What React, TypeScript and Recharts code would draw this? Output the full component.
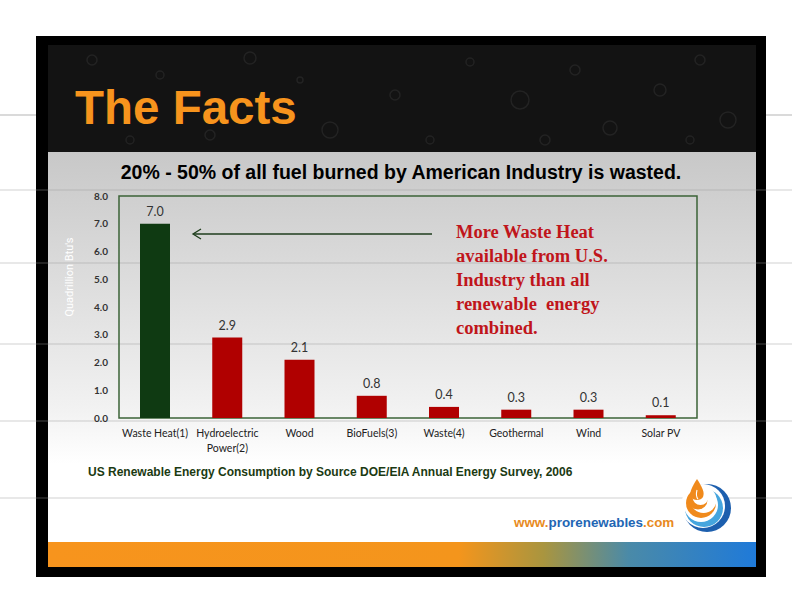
import React from 'react';
import { BarChart, Bar, XAxis, YAxis, Cell, LabelList, ReferenceArea } from 'recharts';

// US renewable energy consumption by source (quadrillion Btu's)
const categories = [
  'Waste Heat(1)',
  'Hydroelectric\nPower(2)',
  'Wood',
  'BioFuels(3)',
  'Waste(4)',
  'Geothermal',
  'Wind',
  'Solar PV',
];
const values = [7.0, 2.9, 2.1, 0.8, 0.4, 0.3, 0.3, 0.1];
const barColors = ['#0f3a12', '#b00000', '#b00000', '#b00000', '#b00000', '#b00000', '#b00000', '#b00000'];
const yTicks = [0, 1, 2, 3, 4, 5, 6, 7, 8];

const noteLines = [
  'More Waste Heat',
  'available from U.S.',
  'Industry than all',
  'renewable  energy',
  'combined.',
];

const data = categories.map((name, i) => ({ name, value: values[i] }));

// faint page guide lines
const guideLines = [190, 263, 344, 421, 498];

// header texture rings
const rings = [
  [92, 60, 5], [160, 75, 4], [250, 58, 6], [330, 130, 8], [395, 95, 5], [470, 62, 4],
  [520, 100, 9], [575, 70, 5], [610, 128, 7], [660, 90, 6], [700, 60, 5], [728, 120, 8],
  [300, 80, 3], [430, 140, 4], [545, 140, 5], [690, 140, 4], [210, 135, 5], [130, 140, 4],
];

function CategoryTick(props: any) {
  const { x, y, payload } = props;
  const lines = String(payload.value).split('\n');
  return (
    <text x={x} y={y} textAnchor="middle" fontFamily="Lato" fontSize={10.5} fill="#222">
      {lines.map((l, i) => (
        <tspan key={i} x={x} dy={i === 0 ? '0.71em' : 15}>
          {l}
        </tspan>
      ))}
    </text>
  );
}

export default function App() {
  return (
    <div
      style={{
        position: 'absolute',
        left: 0,
        top: 0,
        width: 792,
        height: 612,
        background: '#fff',
        overflow: 'hidden',
        fontFamily: 'Liberation Sans, Arial, sans-serif',
      }}
    >
      {/* slide frame */}
      <div style={{ position: 'absolute', left: 36, top: 36, width: 730, height: 541, background: '#000' }} />
      {/* header */}
      <div style={{ position: 'absolute', left: 48, top: 45, width: 708, height: 107, background: '#131313' }} />
      {/* gray band */}
      <div
        style={{
          position: 'absolute',
          left: 48,
          top: 152,
          width: 708,
          height: 390,
          background: 'linear-gradient(#c8c8c8 0%, #dedede 35%, #f1f1f1 65%, #ffffff 80%, #ffffff 100%)',
        }}
      />
      {/* bottom bar */}
      <div
        style={{
          position: 'absolute',
          left: 48,
          top: 542,
          width: 708,
          height: 25,
          background: 'linear-gradient(90deg, #f7941d 0%, #f4951c 58%, #a9953f 70%, #4a8aa8 82%, #1f7ad9 100%)',
        }}
      />

      <svg width={792} height={612} style={{ position: 'absolute', left: 0, top: 0 }}>
        {rings.map(([cx, cy, r], i) => (
          <circle key={i} cx={cx} cy={cy} r={r} fill="none" stroke="#232323" strokeWidth={1.5} />
        ))}
        <line x1={0} y1={115} x2={36} y2={115} stroke="#b5b5b5" />
        <line x1={766} y1={115} x2={792} y2={115} stroke="#b5b5b5" />
        {guideLines.map((y) => (
          <line key={y} x1={0} y1={y} x2={792} y2={y} stroke="#9a9a9a" strokeOpacity={0.45} />
        ))}
        <text x={75} y={124} fontSize={47.5} fontWeight="bold" fill="#f7941d" fontFamily="Liberation Sans">
          The Facts
        </text>
        <text x={401} y={179} fontSize={19.5} fontWeight="bold" fill="#000" textAnchor="middle" fontFamily="Liberation Sans">
          20% - 50% of all fuel burned by American Industry is wasted.
        </text>
      </svg>

      <div style={{ position: 'absolute', left: 0, top: 0 }}>
        <BarChart width={792} height={612} data={data} margin={{ top: 196, right: 95, bottom: 164, left: 69 }}>
          <ReferenceArea y1={0} y2={8} fill="none" stroke="#3b6337" strokeWidth={1.5} ifOverflow="visible" />
          <XAxis
            dataKey="name"
            height={30}
            axisLine={false}
            tickLine={false}
            tickSize={0}
            tickMargin={12}
            interval={0}
            tick={<CategoryTick />}
          />
          <YAxis
            width={50}
            domain={[0, 8]}
            ticks={yTicks}
            interval={0}
            axisLine={false}
            tickLine={false}
            tickSize={0}
            tickMargin={11}
            tickFormatter={(v: number) => v.toFixed(1)}
            tick={{ fontFamily: 'Lato', fontSize: 10, fontWeight: 'bold', fill: '#333' }}
          />
          <Bar dataKey="value" barSize={30} isAnimationActive={false}>
            {data.map((d, i) => (
              <Cell key={d.name} fill={barColors[i]} />
            ))}
            <LabelList
              dataKey="value"
              position="top"
              offset={8}
              formatter={(v: any) => Number(v).toFixed(1)}
              style={{ fontFamily: 'Lato', fontSize: 12.5, fill: '#333' }}
            />
          </Bar>
        </BarChart>
      </div>

      <svg width={792} height={612} style={{ position: 'absolute', left: 0, top: 0, pointerEvents: 'none' }}>
        <text
          x={70}
          y={277}
          transform="rotate(-90 70 277)"
          textAnchor="middle"
          dominantBaseline="middle"
          fontFamily="Roboto"
          fontSize={11}
          fill="#ffffff"
        >
          Quadrillion Btu's
        </text>
        {/* arrow */}
        <line x1={432} y1={234} x2={194} y2={234} stroke="#1e3d1c" strokeWidth={1.3} />
        <polyline points="201,229 193,234 201,239" fill="none" stroke="#1e3d1c" strokeWidth={1.3} />
        {noteLines.map((l, i) => (
          <text
            key={i}
            x={456}
            y={238 + i * 24}
            fontFamily="Liberation Serif"
            fontWeight="bold"
            fontSize={18.5}
            fill="#c0151b"
            style={{ whiteSpace: 'pre' }}
          >
            {l}
          </text>
        ))}
        <text x={88} y={476} fontFamily="Liberation Sans" fontWeight="bold" fontSize={12} fill="#1b3a12">
          US Renewable Energy Consumption by Source DOE/EIA Annual Energy Survey, 2006
        </text>
        <text x={514} y={527} fontFamily="Liberation Sans" fontWeight="bold" fontSize={13.4}>
          <tspan fill="#e88a22">www.</tspan>
          <tspan fill="#2266b4">prorenewables</tspan>
          <tspan fill="#e88a22">.com</tspan>
        </text>
        {/* logo: nested crescents */}
        <circle cx={707} cy={508} r={24} fill="#1d5fae" />
        <circle cx={703} cy={506} r={22} fill="#ffffff" />
        <circle cx={704} cy={508} r={19} fill="#45a5de" />
        <circle cx={701} cy={505} r={17} fill="#ffffff" />
        <circle cx={701} cy={503} r={15} fill="#f08a1c" />
        <circle cx={703.5} cy={500} r={13} fill="#ffffff" />
        <circle cx={698} cy={500} r={9.5} fill="#f08a1c" />
        <circle cx={700.5} cy={497} r={8} fill="#ffffff" />
        <path d="M697,479 C692,487 689,492 691,497 C693,501 701,501 703,497 C705,492 702,487 697,479 Z" fill="#f08a1c" />
        <path d="M697,490 C696,494 696,497 698,499" fill="none" stroke="#fff" strokeWidth={1.1} />
      </svg>
    </div>
  );
}
